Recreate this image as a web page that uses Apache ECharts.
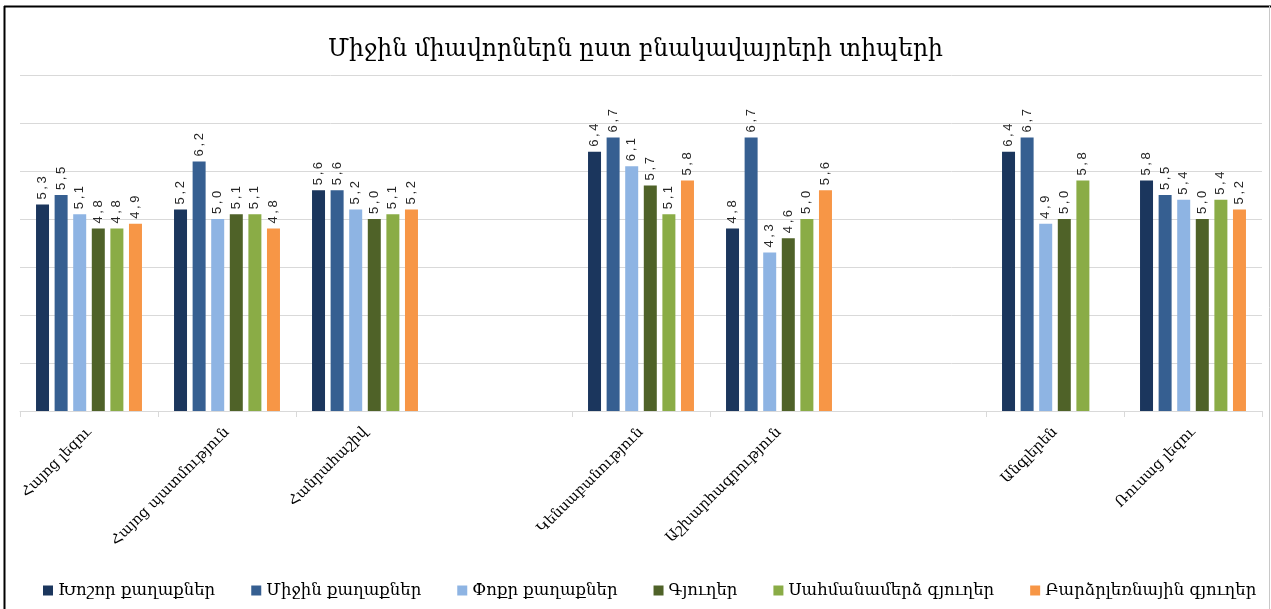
<!DOCTYPE html>
<html>
<head>
<meta charset="utf-8">
<script src="https://cdn.jsdelivr.net/npm/echarts@6/dist/echarts.min.js"></script>
<style>
html,body{margin:0;padding:0;background:#fff;}
#c{width:1271px;height:609px;}
</style>
</head>
<body>
<div id="c"></div>
<script>
const titleText = 'Միջին միավորներն ըստ բնակավայրերի տիպերի';
const categories = ['Հայոց լեզու', 'Հայոց պատմություն', 'Հանրահաշիվ', '', 'Կենսաբանություն', 'Աշխարհագրություն', '', 'Անգլերեն', 'Ռուսաց լեզու'];
const seriesNames = ['Խոշոր քաղաքներ', 'Միջին քաղաքներ', 'Փոքր քաղաքներ', 'Գյուղեր', 'Սահմանամերձ գյուղեր', 'Բարձրլեռնային գյուղեր'];
const largeCities  = [5.3, 5.2, 5.6, null, 6.4, 4.8, null, 6.4, 5.8];
const mediumCities = [5.5, 6.2, 5.6, null, 6.7, 6.7, null, 6.7, 5.5];
const smallCities  = [5.1, 5.0, 5.2, null, 6.1, 4.3, null, 4.9, 5.4];
const villages     = [4.8, 5.1, 5.0, null, 5.7, 4.6, null, 5.0, 5.0];
const borderVillages = [4.8, 5.1, 5.1, null, 5.1, 5.0, null, 5.8, 5.4];
const highlandVillages = [4.9, 4.8, 5.2, null, 5.8, 5.6, null, null, 5.2];
const yMin = 1, yMax = 8, yStep = 1;

const colors = ['#1b365d', '#365f91', '#8eb4e3', '#4f6228', '#8aac46', '#f79646'];
const allData = [largeCities, mediumCities, smallCities, villages, borderVillages, highlandVillages];
const serif = '"DejaVu Serif", serif';

const chart = echarts.init(document.getElementById('c'), null, {renderer: 'canvas'});
chart.setOption({
  animation: false,
  color: colors,
  title: {
    text: titleText, left: 'center', top: 33,
    textStyle: {fontFamily: serif, fontSize: 23.5, fontWeight: 'normal', color: '#000'}
  },
  legend: {
    top: 577, left: 38, itemWidth: 10, itemHeight: 10, itemGap: 36,
    icon: 'rect',
    textStyle: {fontFamily: serif, fontSize: 16.5, color: '#000'},
    data: seriesNames
  },
  grid: {left: 20, right: 9, top: 75, bottom: 198, containLabel: false},
  xAxis: {
    type: 'category', data: categories,
    axisLine: {lineStyle: {color: '#d9d9d9'}},
    axisTick: {show: true, length: 6, lineStyle: {color: '#d9d9d9'},
      interval: function (i) { return categories[i] !== ''; }},
    axisLabel: {interval: 0, rotate: 45, margin: 19, fontFamily: serif, fontSize: 14.5, color: '#000'}
  },
  yAxis: {
    type: 'value', min: yMin, max: yMax, interval: yStep,
    axisLabel: {show: false}, axisLine: {show: false}, axisTick: {show: false},
    splitLine: {lineStyle: {color: '#d9d9d9', width: 1}}
  },
  graphic: [
    {type: 'line', shape: {x1: 4, y1: 6.5, x2: 1271, y2: 6.5}, style: {stroke: '#000', lineWidth: 2}},
    {type: 'line', shape: {x1: 4.5, y1: 6, x2: 4.5, y2: 609}, style: {stroke: '#000', lineWidth: 2}},
    {type: 'line', shape: {x1: 1269.5, y1: 6, x2: 1269.5, y2: 609}, style: {stroke: '#c8c8c8', lineWidth: 1}}
  ],
  series: seriesNames.map((n, k) => ({
    name: n, type: 'bar', data: allData[k], barWidth: 13, barGap: '43%',
    label: {
      show: true, position: 'top', rotate: 90, align: 'left', verticalAlign: 'middle', distance: 5,
      fontFamily: '"Liberation Sans", Arial, sans-serif', fontSize: 13, color: '#262626',
      formatter: p => p.value == null ? '' : p.value.toFixed(1).replace('.', ',').split('').join('\u2009')
    }
  }))
});
</script>
</body>
</html>
